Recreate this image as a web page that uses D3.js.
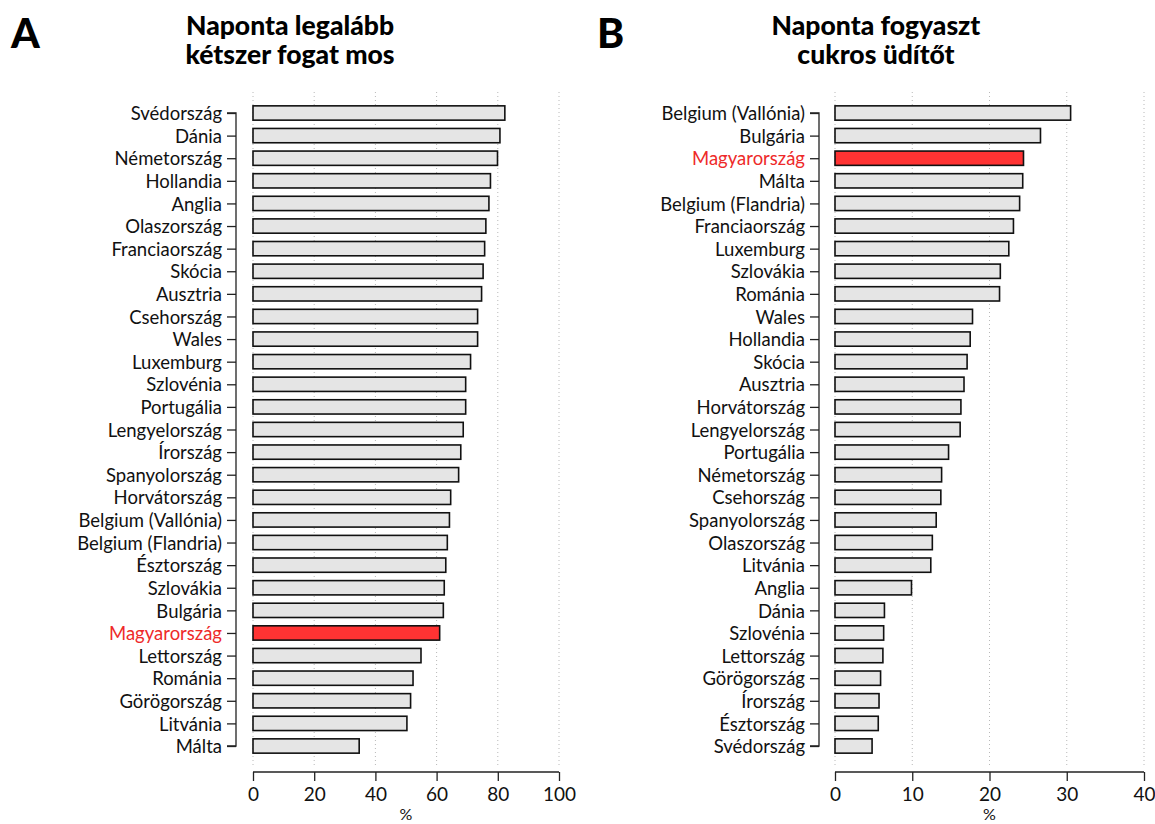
<!DOCTYPE html>
<html>
<head>
<meta charset="utf-8">
<script src="https://cdn.jsdelivr.net/npm/d3@7"></script>
<style>
  body { margin: 0; background: #fff; }
  svg { display: block; font-family: "Lato", "Open Sans", sans-serif; }
</style>
</head>
<body>
<svg id="chart" width="1155" height="824"></svg>
<script>
// Panel A: "Naponta legalább kétszer fogat mos"
const countriesA = ["Svédország","Dánia","Németország","Hollandia","Anglia","Olaszország","Franciaország","Skócia","Ausztria","Csehország","Wales","Luxemburg","Szlovénia","Portugália","Lengyelország","Írország","Spanyolország","Horvátország","Belgium (Vallónia)","Belgium (Flandria)","Észtország","Szlovákia","Bulgária","Magyarország","Lettország","Románia","Görögország","Litvánia","Málta"];
const valuesA = [82.3,80.7,79.9,77.6,77.1,76.1,75.7,75.2,74.7,73.4,73.4,71.1,69.5,69.5,68.7,67.9,67.2,64.6,64.2,63.5,63.0,62.5,62.2,61.0,54.9,52.3,51.5,50.3,34.7];
const ticksA = [0,20,40,60,80,100];

// Panel B: "Naponta fogyaszt cukros üdítőt"
const countriesB = ["Belgium (Vallónia)","Bulgária","Magyarország","Málta","Belgium (Flandria)","Franciaország","Luxemburg","Szlovákia","Románia","Wales","Hollandia","Skócia","Ausztria","Horvátország","Lengyelország","Portugália","Németország","Csehország","Spanyolország","Olaszország","Litvánia","Anglia","Dánia","Szlovénia","Lettország","Görögország","Írország","Észtország","Svédország"];
const valuesB = [30.5,26.6,24.4,24.3,23.9,23.1,22.5,21.4,21.3,17.8,17.5,17.1,16.7,16.3,16.2,14.7,13.8,13.7,13.1,12.6,12.4,9.9,6.4,6.3,6.2,5.9,5.7,5.6,4.8];
const ticksB = [0,10,20,30,40];

const titlesA = ["Naponta legalább","kétszer fogat mos"];
const titlesB = ["Naponta fogyaszt","cukros üdítőt"];
const highlight = "Magyarország";

const svg = d3.select("#chart");

function panel(cfg) {
  const g = svg.append("g");
  const x = d3.scaleLinear().domain([0, cfg.max]).range([cfg.x0, cfg.x1]);
  const y = d3.scalePoint().domain(cfg.countries).range([113, 746]);
  const barH = 14.3;

  // letter
  g.append("text").attr("x", cfg.letterX).attr("y", 48)
    .attr("font-size", 41).attr("font-weight", 900)
    .attr("font-family", "Lato, sans-serif").text(cfg.letter);
  // title
  cfg.titles.forEach((t, i) => {
    g.append("text").attr("x", cfg.titleX).attr("y", 35 + i * 29)
      .attr("text-anchor", "middle").attr("font-size", 26.5).attr("font-weight", 900)
      .text(t);
  });

  // grid
  g.append("g").selectAll("line").data(cfg.ticks).join("line")
    .attr("x1", d => x(d)).attr("x2", d => x(d))
    .attr("y1", 92).attr("y2", 765)
    .attr("stroke", "#b8b8b8").attr("stroke-width", 1)
    .attr("stroke-dasharray", "1,3");

  // bars
  g.append("g").selectAll("rect").data(cfg.countries).join("rect")
    .attr("x", x(0))
    .attr("y", d => y(d) - barH / 2)
    .attr("width", (d, i) => x(cfg.values[i]) - x(0))
    .attr("height", barH)
    .attr("fill", d => d === highlight ? "#ff3333" : "#e5e5e5")
    .attr("stroke", "#111").attr("stroke-width", 1.6);

  // y axis
  const ya = d3.axisLeft(y).tickSize(9).tickPadding(5);
  const yg = g.append("g").attr("transform", `translate(${cfg.yAxisX},0)`).call(ya);
  yg.select(".domain").attr("stroke", "#222").attr("stroke-width", 1.3)
    .attr("d", `M-9,113H0V746H-9`);
  yg.selectAll(".tick line").attr("stroke", "#222").attr("stroke-width", 1.3);
  yg.selectAll(".tick text").attr("font-size", 18.5).attr("fill", d => d === highlight ? "#ee2a2a" : "#111")
    .attr("font-family", "Lato, sans-serif").attr("dy", "0.36em");

  // x axis
  const xa = d3.axisBottom(x).tickValues(cfg.ticks).tickSize(9).tickPadding(7).tickFormat(d3.format("d"));
  const xg = g.append("g").attr("transform", "translate(0,772)").call(xa);
  xg.select(".domain").attr("stroke", "#222").attr("stroke-width", 1.3)
    .attr("d", `M${cfg.x0},0H${cfg.x1}`);
  xg.selectAll(".tick line").attr("stroke", "#222").attr("stroke-width", 1.3);
  xg.selectAll(".tick text").attr("font-size", 19).attr("fill", "#111")
    .attr("font-family", "Lato, sans-serif");
  g.append("text").attr("x", (cfg.x0 + cfg.x1) / 2).attr("y", 820)
    .attr("text-anchor", "middle").attr("font-size", 16).attr("fill", "#111").text("%");
}

panel({ letter: "A", letterX: 11, titleX: 290, titles: titlesA, countries: countriesA, values: valuesA,
        ticks: ticksA, max: 100, x0: 253, x1: 559, yAxisX: 236 });
panel({ letter: "B", letterX: 597, titleX: 876, titles: titlesB, countries: countriesB, values: valuesB,
        ticks: ticksB, max: 40, x0: 835, x1: 1144, yAxisX: 819 });
</script>
</body>
</html>
